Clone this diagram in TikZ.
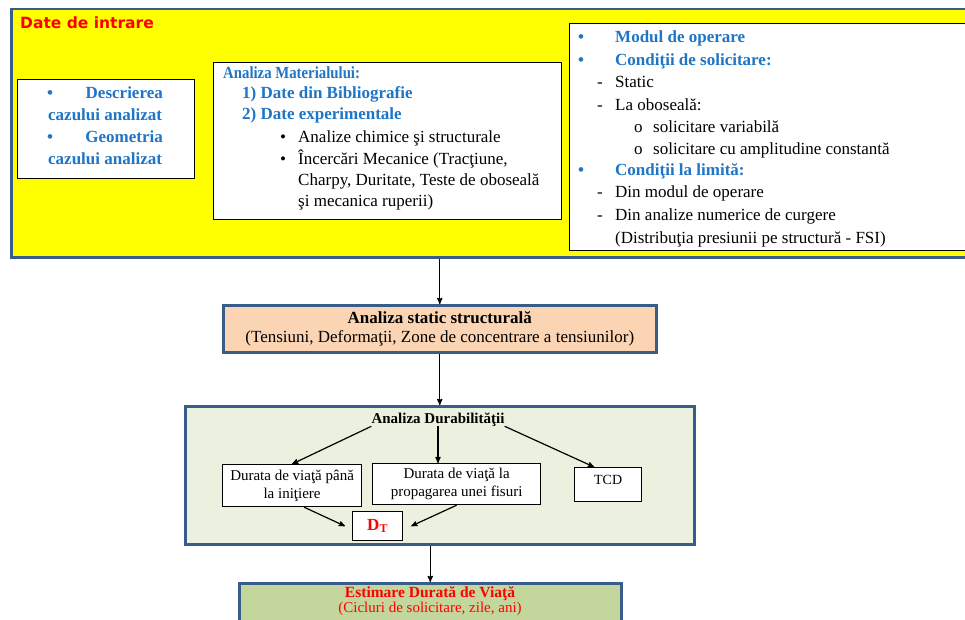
\documentclass[tikz,border=0pt]{standalone}
\usepackage{fontspec}
\setmainfont{Liberation Serif}
\newfontfamily\headfont{DejaVu Sans}
\newfontfamily\narrowfont[FakeStretch=0.87]{Liberation Serif}
\usetikzlibrary{shapes,arrows}
\definecolor{frameblue}{HTML}{385D8A}
\definecolor{listblue}{HTML}{1F75C6}
\definecolor{inputyellow}{HTML}{FFFF00}
\definecolor{staticpeach}{HTML}{FBD4B4}
\definecolor{durgreen}{HTML}{EBF1DE}
\definecolor{lifegreen}{HTML}{C3D69B}
\tikzstyle{frame_block} = [anchor=north west, rectangle, draw=frameblue, line width=2.5pt, inner sep=0pt]
\tikzstyle{white_block} = [anchor=north west, rectangle, draw=black, line width=1.2pt, fill=white, inner sep=0pt]
\tikzstyle{list_txt} = [anchor=base west, inner sep=0pt, font=\fontsize{17}{20}\selectfont]
\tikzstyle{list_head} = [list_txt, text=listblue, font=\fontsize{17}{20}\selectfont\bfseries]
\tikzstyle{small_txt} = [anchor=base, inner sep=0pt, font=\fontsize{15}{18}\selectfont]
\tikzstyle{arrow} = [->, line width=1.2pt, >=stealth']

\begin{document}
\begin{tikzpicture}[x=1pt,y=-1pt]
\useasboundingbox (0,0) rectangle (965,620);
\clip (0,0) rectangle (965,620);

\node[frame_block, fill=inputyellow, minimum width=975pt, minimum height=248pt] (input) at (10,8) {};
\node[anchor=base west, inner sep=0pt, text=red, font=\headfont\bfseries\fontsize{15.5}{18}\selectfont] (input_title) at (20,29) {Date de intrare};

\node[white_block, minimum width=177pt, minimum height=99pt] (case_box) at (17,79) {};
\node[list_head] (case_b1) at (47,99) {\textbullet};
\node[list_head, anchor=base east] (case_l1) at (163,99) {Descrierea};
\node[list_head] (case_l2) at (48,121) {cazului analizat};
\node[list_head] (case_b2) at (47,143) {\textbullet};
\node[list_head, anchor=base east] (case_l3) at (163,143) {Geometria};
\node[list_head] (case_l4) at (48,165) {cazului analizat};

\node[white_block, minimum width=348pt, minimum height=157pt] (mat_box) at (213,62) {};
\node[list_head, font=\narrowfont\fontsize{17}{20}\selectfont\bfseries] (mat_title) at (223,79) {Analiza Materialului:};
\node[list_head] (mat_l1) at (242,99) {1) Date din Bibliografie};
\node[list_head] (mat_l2) at (242,120) {2) Date experimentale};
\node[list_txt] (mat_b1) at (280,143) {\textbullet};
\node[list_txt] (mat_l3) at (298,143) {Analize chimice şi structurale};
\node[list_txt] (mat_b2) at (280,165) {\textbullet};
\node[list_txt] (mat_l4) at (298,165) {Încercări Mecanice (Tracţiune,};
\node[list_txt] (mat_l5) at (298,186) {Charpy, Duritate, Teste de oboseală};
\node[list_txt] (mat_l6) at (298,207) {şi mecanica ruperii)};

\node[white_block, minimum width=400pt, minimum height=227pt] (cond_box) at (569,23) {};
\node[list_head] (cond_b1) at (578,43) {\textbullet};
\node[list_head] (cond_l1) at (615,43) {Modul de operare};
\node[list_head] (cond_b2) at (578,66) {\textbullet};
\node[list_head] (cond_l2) at (615,66) {Condiţii de solicitare:};
\node[list_txt] (cond_d1) at (597,88) {-};
\node[list_txt] (cond_l3) at (615,88) {Static};
\node[list_txt] (cond_d2) at (597,111) {-};
\node[list_txt] (cond_l4) at (615,111) {La oboseală:};
\node[list_txt] (cond_o1) at (634,133) {o};
\node[list_txt] (cond_l5) at (653,133) {solicitare variabilă};
\node[list_txt] (cond_o2) at (634,155) {o};
\node[list_txt] (cond_l6) at (653,155) {solicitare cu amplitudine constantă};
\node[list_head] (cond_b3) at (578,176) {\textbullet};
\node[list_head] (cond_l7) at (615,176) {Condiţii la limită:};
\node[list_txt] (cond_d3) at (597,198) {-};
\node[list_txt] (cond_l8) at (615,198) {Din modul de operare};
\node[list_txt] (cond_d4) at (597,220) {-};
\node[list_txt] (cond_l9) at (615,220) {Din analize numerice de curgere};
\node[list_txt] (cond_l10) at (615,243) {(Distribuţia presiunii pe structură - FSI)};

\node[frame_block, fill=staticpeach, minimum width=433pt, minimum height=47pt, align=center, font=\fontsize{17}{19}\selectfont] (static) at (222,304) {\textbf{Analiza static structurală}\\(Tensiuni, Deformaţii, Zone de concentrare a tensiunilor)};

\node[frame_block, fill=durgreen, minimum width=509pt, minimum height=138pt] (dur) at (184,405) {};
\node[small_txt, font=\fontsize{15}{18}\selectfont\bfseries] (dur_title) at (438,423) {Analiza Durabilităţii};
\node[white_block, minimum width=139pt, minimum height=42pt, align=center, font=\fontsize{15}{18}\selectfont] (init_box) at (222,464) {Durata de viaţă până\\la iniţiere};
\node[white_block, minimum width=168pt, minimum height=41pt, align=center, font=\fontsize{15}{18}\selectfont] (prop_box) at (372,463) {Durata de viaţă la\\propagarea unei fisuri};
\node[white_block, minimum width=67pt, minimum height=34pt, text depth=10pt, font=\fontsize{14}{16}\selectfont] (tcd_box) at (574,467) {TCD};
\node[white_block, minimum width=50pt, minimum height=29pt, text=red, font=\fontsize{17}{19}\selectfont\bfseries] (dt_box) at (352,511) {D\textsubscript{T}};

\node[frame_block, fill=lifegreen, minimum width=382pt, minimum height=45pt] (life) at (238,582) {};
\node[small_txt, text=red, font=\fontsize{15.5}{18}\selectfont\bfseries] (life_title) at (430,597) {Estimare Durată de Viaţă};
\node[small_txt, text=red] (life_sub) at (430,612) {(Cicluri de solicitare, zile, ani)};

\draw[arrow] (input.south -| static.north) -- (static.north);
\draw[arrow] (static.south) -- (static.south |- dur.north);
\draw[arrow] (dur_title.south west) -- (init_box.north);
\draw[arrow] (dur_title.south) -- (dur_title.south |- prop_box.north);
\draw[arrow] (dur_title.south east) -- ([xshift=-14pt]tcd_box.north);
\draw[arrow] ([xshift=12pt]init_box.south) -- ([xshift=-7pt]dt_box.west);
\draw[arrow] (prop_box.south) -- ([xshift=8pt]dt_box.east);
\draw[arrow] (life.north |- dur.south) -- (life.north);
\end{tikzpicture}
\end{document}
